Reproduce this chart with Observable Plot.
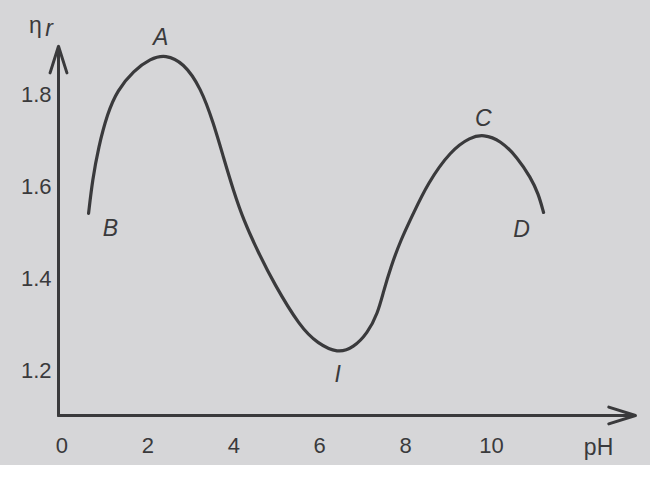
<!DOCTYPE html>
<html>
<head>
<meta charset="utf-8">
<script src="https://cdn.jsdelivr.net/npm/d3@7"></script>
<script src="https://cdn.jsdelivr.net/npm/@observablehq/plot@0.6"></script>
<style>
  body { margin: 0; background: #ffffff; }
  #chart svg { display: block; background: #d6d6d8; }
</style>
</head>
<body>
<div id="chart"></div>
<script>
// Curve: pH vs relative viscosity ηr
const pH = [0.62, 0.71, 0.85, 1.06, 1.29, 1.67, 2.06, 2.41, 2.83, 3.23, 3.53, 3.76, 3.99, 4.23, 4.55, 4.93, 5.55, 5.95, 6.42, 6.79, 7.11, 7.35, 7.49, 7.65, 7.88, 8.18, 8.51, 9.05, 9.51, 9.81, 10.21, 10.60, 10.91, 11.09, 11.21];
const eta = [1.542, 1.614, 1.686, 1.760, 1.810, 1.853, 1.879, 1.888, 1.870, 1.816, 1.738, 1.664, 1.592, 1.527, 1.461, 1.390, 1.294, 1.259, 1.237, 1.250, 1.281, 1.324, 1.374, 1.424, 1.483, 1.542, 1.607, 1.679, 1.708, 1.714, 1.701, 1.664, 1.620, 1.585, 1.544];

// Point labels on the curve
const pointNames = ["A", "B", "C", "D", "I"];
const pointPH = [2.30, 1.13, 9.81, 10.70, 6.42];
const pointEta = [1.925, 1.509, 1.749, 1.507, 1.192];

// Axis tick labels
const xTicks = [0, 2, 4, 6, 8, 10];
const yTicks = [1.2, 1.4, 1.6, 1.8];

// Axis extents
const xMin = -0.08, xMax = 13.35;
const yMin = 1.102, yMax = 1.901;

const curve = pH.map((x, i) => ({x, y: eta[i]}));
const points = pointNames.map((n, i) => ({n, x: pointPH[i], y: pointEta[i]}));

const ink = "#3a3a3c";
const font = "Liberation Sans, Arial, sans-serif";

const chart = Plot.plot({
  width: 650,
  height: 465,
  marginLeft: 58,
  marginRight: 15,
  marginTop: 48,
  marginBottom: 50,
  style: {fontFamily: font, color: ink, background: "#d6d6d8"},
  x: {domain: [xMin, xMax]},
  y: {domain: [yMin, yMax]},
  marks: [
    Plot.axisX({ticks: xTicks, tickSize: 0, tickPadding: 22, fontSize: 22, tickFormat: d => String(d), label: null, fill: ink}),
    Plot.axisY({ticks: yTicks, tickSize: 0, tickPadding: 7, fontSize: 22, tickFormat: d => d.toFixed(1), label: null, fill: ink}),
    Plot.arrow([{}], {x1: xMin, x2: xMin, y1: yMin, y2: yMax + 0.005, stroke: ink, strokeWidth: 3, headLength: 14, headAngle: 35}),
    Plot.arrow([{}], {x1: xMin, x2: xMax, y1: yMin, y2: yMin, stroke: ink, strokeWidth: 3, headLength: 14, headAngle: 35}),
    Plot.line(curve, {x: "x", y: "y", curve: "basis", stroke: ink, strokeWidth: 3.2}),
    Plot.text(points, {x: "x", y: "y", text: "n", fontSize: 23, fontStyle: "italic", fill: ink}),
    Plot.text(["η"], {x: [-0.62], y: [1.95], text: d => d, fontSize: 23, fill: ink}),
    Plot.text(["r"], {x: [-0.3], y: [1.945], text: d => d, fontSize: 23, fontStyle: "italic", fill: ink}),
    Plot.text(["pH"], {x: [12.49], y: [1.032], text: d => d, fontSize: 23, fill: ink})
  ]
});
document.getElementById("chart").appendChild(chart);
</script>
</body>
</html>
